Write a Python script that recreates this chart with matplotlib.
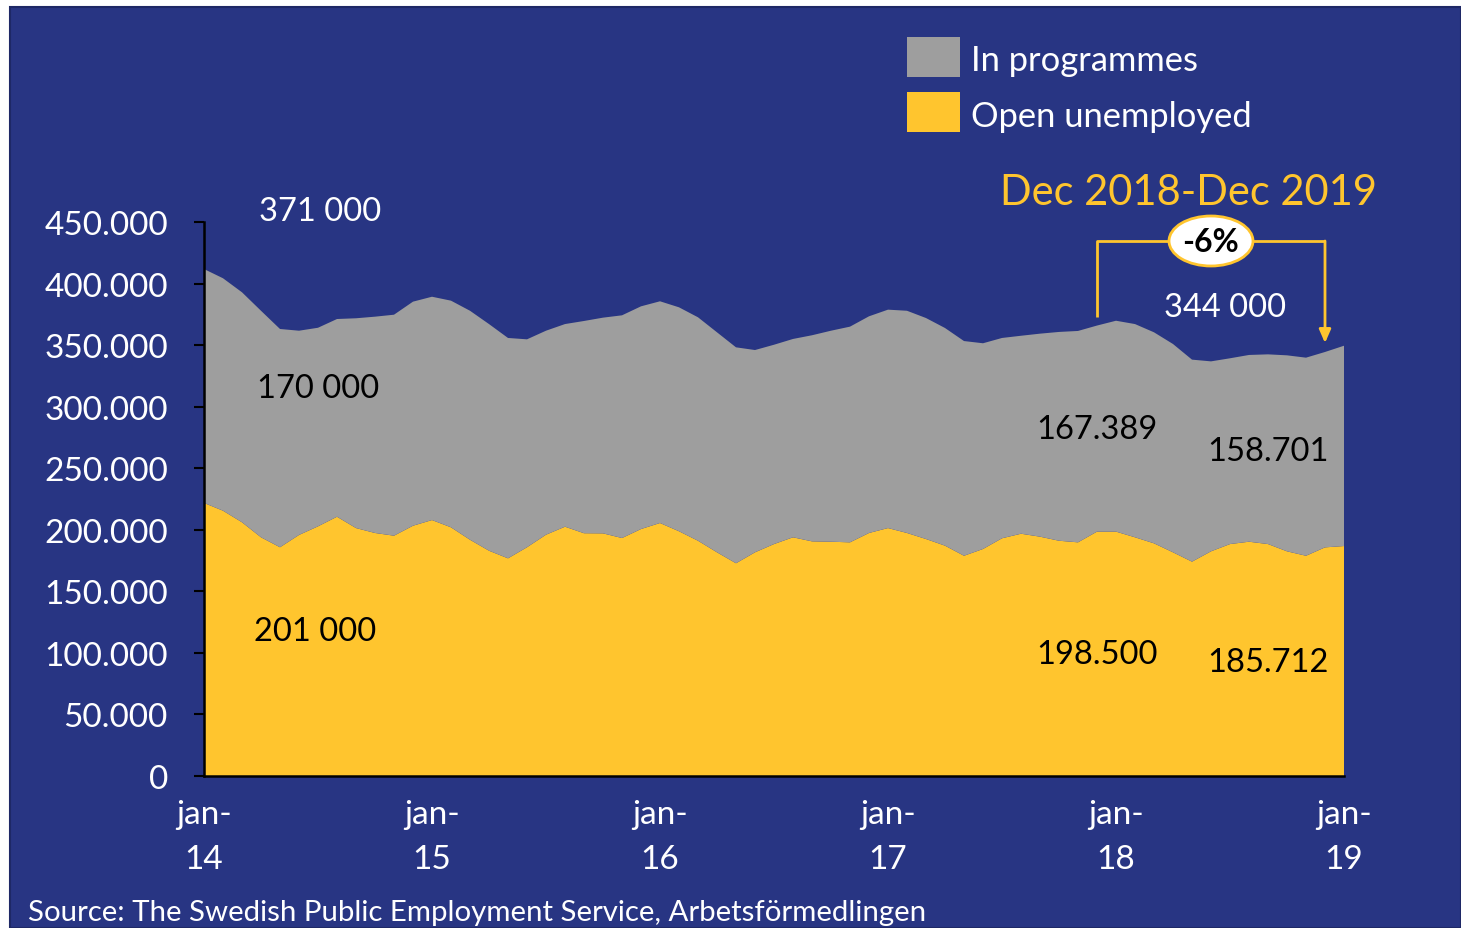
import matplotlib
matplotlib.use("Agg")
import matplotlib.pyplot as plt
from matplotlib.patches import Rectangle, Ellipse
from matplotlib.ticker import FuncFormatter, MultipleLocator
import numpy as np

plt.rcParams['font.family'] = ['Lato', 'DejaVu Sans']

# Monthly registered job seekers (thousands), jan-14 .. jan-19
open_unemployed = [
    221.8, 215.5, 206.1, 193.9, 185.8, 195.8, 202.8, 210.6, 201.4, 197.4, 195.2, 203.3,
    207.9, 202.0, 191.9, 183.0, 176.8, 185.8, 196.0, 202.5, 197.2, 197.1, 193.3, 200.6,
    205.5, 198.8, 191.1, 181.7, 172.8, 181.7, 188.4, 193.9, 190.6, 190.3, 189.8, 197.4,
    201.4, 197.4, 192.5, 187.1, 178.9, 184.4, 193.1, 196.8, 194.4, 191.1, 189.8, 198.500,
    198.5, 193.9, 189.0, 181.7, 174.1, 182.5, 188.4, 190.3, 188.4, 182.5, 178.9, 185.712,
    186.8,
]
in_programmes = [
    190.0, 188.8, 186.8, 184.0, 177.3, 165.9, 161.3, 160.6, 170.4, 175.7, 179.5, 182.0,
    181.4, 184.1, 186.0, 184.1, 179.0, 168.9, 165.7, 164.6, 172.4, 175.2, 180.9, 180.9,
    180.1, 181.9, 181.5, 178.7, 175.4, 164.3, 161.9, 161.1, 167.4, 171.4, 175.2, 176.0,
    177.4, 180.5, 179.5, 176.8, 174.4, 167.1, 162.7, 160.8, 164.9, 169.6, 171.7, 167.389,
    171.3, 173.2, 171.4, 169.2, 164.1, 154.3, 150.9, 151.7, 154.1, 159.2, 160.9, 158.701,
    162.7,
]
tick_labels = ["jan-\n14", "jan-\n15", "jan-\n16", "jan-\n17", "jan-\n18", "jan-\n19"]
series_names = ["In programmes", "Open unemployed"]

NAVY = "#283583"
GRAY = "#9e9e9e"
YELLOW = "#ffc52e"

W, H = 1461, 929
fig = plt.figure(figsize=(W / 100, H / 100), dpi=100, facecolor="white")


def fx(px):
    return px / W


def fy(py):
    return 1 - py / H


# navy panel
fig.patches.append(Rectangle((fx(10), 0), 1 - fx(10), fy(8), transform=fig.transFigure,
                             facecolor=NAVY, edgecolor="#1e2866", linewidth=1.5, zorder=-1))

ax = fig.add_axes([fx(204), fy(777), fx(1344) - fx(204), fy(223) - fy(777)])
ax.set_zorder(1)
ax.set_facecolor("none")

months = np.arange(len(open_unemployed))
yel = np.array(open_unemployed) * 1000
gry = np.array(in_programmes) * 1000
ax.stackplot(months, yel, gry, colors=[YELLOW, GRAY], linewidth=0)

ax.set_xlim(0, 60)
ax.set_ylim(0, 450000)
ax.yaxis.set_major_locator(MultipleLocator(50000))
ax.yaxis.set_major_formatter(FuncFormatter(lambda v, p: f"{int(v):,}".replace(",", ".")))
ax.set_xticks(np.arange(0, 61, 12))
ax.set_xticklabels(tick_labels, linespacing=1.62)

for s in ["top", "right"]:
    ax.spines[s].set_visible(False)
for s in ["left", "bottom"]:
    ax.spines[s].set_color("black")
    ax.spines[s].set_linewidth(1.8)
    ax.spines[s].set_zorder(5)

ax.tick_params(axis="y", colors="black", length=7, width=1.5, direction="out", pad=19,
               labelcolor="white", labelsize=24)
ax.tick_params(axis="x", length=0, pad=16.6, labelcolor="white", labelsize=24)


def px2data(px, py):
    return (px - 204) / 19.0, (777 - py) * 450000 / 554.0


def label(px, py, text, color, size=23.5, weight="normal"):
    x, y = px2data(px, py + 2)
    ax.text(x, y, text, color=color, fontsize=size, fontweight=weight,
            ha="center", va="center", clip_on=False, zorder=6)


label(320, 210, "371 000", "white")
label(318, 387, "170 000", "black")
label(315, 630, "201 000", "black")
label(1097, 428, "167.389", "black")
label(1097, 653, "198.500", "black")
label(1268, 450, "158.701", "black")
label(1268, 661, "185.712", "black")
label(1225, 306, "344 000", "white")
label(1188, 191, "Dec 2018-Dec 2019", YELLOW, size=30)

# change bracket between the two December values
x0, ytop = px2data(1097, 242)
x1, _ = px2data(1325, 242)
_, yleft = px2data(1097, 318)
_, ytip = px2data(1325, 344)
ax.plot([x0, x0, x1, x1], [yleft, ytop, ytop, ytop - 1], color=YELLOW, lw=2,
        clip_on=False, zorder=6, solid_capstyle="butt")
ax.annotate("", xy=(x1, ytip), xytext=(x1, ytop), zorder=6, annotation_clip=False,
            arrowprops=dict(arrowstyle="-|>,head_length=0.8,head_width=0.35",
                            color=YELLOW, lw=2, shrinkA=0, shrinkB=0))
fig.patches.append(Ellipse((fx(1211), fy(242)), fx(84), 50 / H, transform=fig.transFigure,
                           facecolor="white", edgecolor=YELLOW, linewidth=2, zorder=7))
fig.text(fx(1211), fy(243), "-6%", color="black", fontsize=23, fontweight="bold",
         ha="center", va="center", zorder=8)

# legend
fig.patches.append(Rectangle((fx(907), fy(78)), fx(53), 40 / H, transform=fig.transFigure,
                             facecolor=GRAY, edgecolor="none", zorder=3))
fig.patches.append(Rectangle((fx(907), fy(133)), fx(53), 40 / H, transform=fig.transFigure,
                             facecolor=YELLOW, edgecolor="none", zorder=3))
fig.text(fx(971), fy(61), series_names[0], color="white", fontsize=24.8, ha="left", va="center")
fig.text(fx(971), fy(117), series_names[1], color="white", fontsize=24.8, ha="left", va="center")

fig.text(fx(28), fy(913), "Source: The Swedish Public Employment Service, Arbetsförmedlingen",
         color="white", fontsize=21.2, ha="left", va="center")

fig.savefig("out.png", dpi=100, facecolor="white")
